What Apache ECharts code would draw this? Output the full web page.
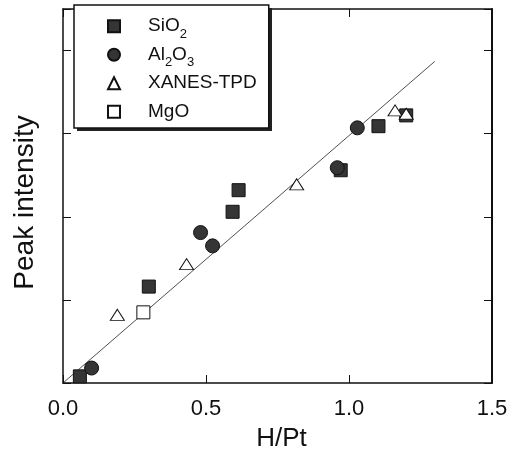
<!DOCTYPE html>
<html>
<head>
<meta charset="utf-8">
<script src="https://cdn.jsdelivr.net/npm/echarts@6/dist/echarts.min.js"></script>
<style>html,body{margin:0;padding:0;background:#fff;}#c{width:509px;height:453px;}</style>
</head>
<body>
<div id="c"></div>
<script>
// Data (x = H/Pt, y = peak intensity, arbitrary units)
const sio2 = [[0.059, 0.08], [0.30, 1.16], [0.593, 2.06], [0.614, 2.32], [0.971, 2.56], [1.103, 3.09], [1.20, 3.22]];
const al2o3 = [[0.10, 0.18], [0.481, 1.81], [0.523, 1.65], [0.959, 2.59], [1.029, 3.07]];
const xanes = [[0.19, 0.82], [0.432, 1.43], [0.817, 2.39], [1.161, 3.28], [1.20, 3.24]];
const mgo = [[0.281, 0.85]];
const fitLine = [[0, 0], [1.30, 3.87]];
const xTicks = [0, 0.5, 1.0, 1.5];
const seriesNames = ['SiO2', 'Al2O3', 'XANES-TPD', 'MgO'];
const legendLabels = {
  'SiO2': '{n|SiO}{s|2}',
  'Al2O3': '{n|Al}{s|2}{n|O}{s|3}',
  'XANES-TPD': '{n|XANES-TPD}',
  'MgO': '{n|MgO}'
};

const FONT = 'Liberation Sans, Arial, Helvetica, sans-serif';
const chart = echarts.init(document.getElementById('c'), null, {renderer: 'canvas'});
const frameAxis = {
  axisLine: {show: true, onZero: false, lineStyle: {color: '#111', width: 1.5}},
  axisTick: {show: true, inside: true, length: 8, lineStyle: {color: '#111', width: 1}},
  splitLine: {show: false}
};
const LEG = {left: 74, top: 5, pad: [7, 12, 2, 33]};
chart.setOption({
  animation: false,
  backgroundColor: '#fff',
  grid: {left: 63, right: 17, top: 9, bottom: 70, containLabel: false, outerBoundsMode: 'none'},
  graphic: [{
    type: 'rect', left: LEG.left + 3, top: LEG.top + 3, z: 9, silent: true,
    shape: {width: 195, height: 123}, style: {fill: '#222'}
  }],
  xAxis: [
    Object.assign({
      type: 'value', min: 0, max: 1.5, interval: 0.5, position: 'bottom',
      axisLabel: {show: true, margin: 15, fontSize: 22, color: '#111', fontFamily: FONT,
        formatter: v => xTicks.includes(v) ? v.toFixed(1) : ''},
      name: 'H/Pt', nameLocation: 'middle', nameGap: 43,
      nameTextStyle: {fontSize: 26, color: '#111', fontFamily: FONT, padding: [0, 0, 0, 8]}
    }, frameAxis),
    Object.assign({
      type: 'value', min: 0, max: 1.5, interval: 0.5, position: 'top',
      axisLabel: {show: false}
    }, frameAxis)
  ],
  yAxis: [
    Object.assign({
      type: 'value', min: 0, max: 4.5, interval: 1, position: 'left',
      axisLabel: {show: false},
      name: 'Peak intensity', nameLocation: 'middle', nameGap: 24,
      nameTextStyle: {fontSize: 28, color: '#111', fontFamily: FONT, padding: [0, 13, 0, 0]}
    }, frameAxis),
    Object.assign({}, frameAxis, {
      type: 'value', min: 0, max: 4.5, interval: 1, position: 'right',
      axisLabel: {show: false},
      axisLine: {show: true, onZero: false, lineStyle: {color: '#111', width: 2}}
    })
  ],
  legend: {
    orient: 'vertical', left: LEG.left, top: LEG.top,
    padding: LEG.pad,
    itemGap: 0, itemWidth: 12, itemHeight: 12,
    backgroundColor: '#fff', borderColor: '#111', borderWidth: 1.5,
    z: 10,
    data: [
      {name: 'SiO2', icon: 'rect'},
      {name: 'Al2O3', icon: 'circle'},
      {name: 'XANES-TPD', icon: 'triangle'},
      {name: 'MgO', icon: 'rect'}
    ],
    formatter: name => legendLabels[name],
    textStyle: {
      color: '#111', fontFamily: FONT, fontSize: 19, lineHeight: 28.5, padding: [0, 0, 0, 23],
      rich: {
        n: {fontSize: 19, lineHeight: 28.5, color: '#111', fontFamily: FONT},
        s: {fontSize: 13, lineHeight: 16, verticalAlign: 'bottom', color: '#111', fontFamily: FONT}
      }
    }
  },
  series: [
    {
      type: 'line', data: fitLine, showSymbol: false, symbol: 'none', silent: true,
      lineStyle: {color: '#222', width: 0.8}, z: 1
    },
    {
      name: seriesNames[0], type: 'scatter', data: sio2, symbol: 'rect', symbolSize: 13,
      itemStyle: {color: '#353535', borderColor: '#111', borderWidth: 1, opacity: 1}, z: 2
    },
    {
      name: seriesNames[1], type: 'scatter', data: al2o3, symbol: 'circle', symbolSize: 14,
      itemStyle: {color: '#353535', borderColor: '#111', borderWidth: 1, opacity: 1}, z: 3
    },
    {
      name: seriesNames[2], type: 'scatter', data: xanes, symbol: 'triangle', symbolSize: [14, 11],
      itemStyle: {color: '#fff', borderColor: '#111', borderWidth: 1, opacity: 1}, z: 4
    },
    {
      name: seriesNames[3], type: 'scatter', data: mgo, symbol: 'rect', symbolSize: 13,
      itemStyle: {color: '#fff', borderColor: '#111', borderWidth: 1, opacity: 1}, z: 5
    }
  ]
});
</script>
</body>
</html>
